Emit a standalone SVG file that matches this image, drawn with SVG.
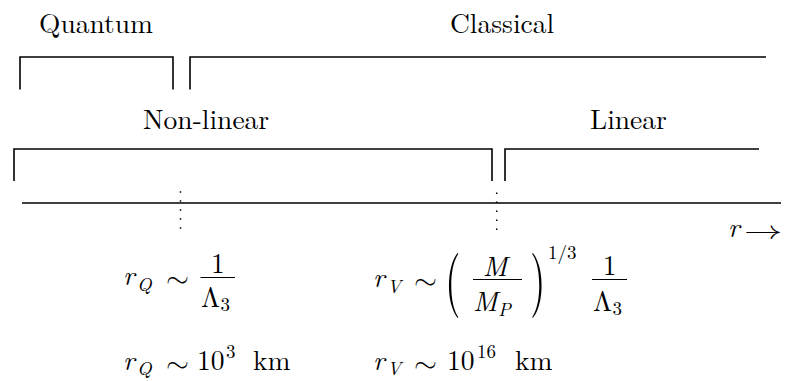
<svg xmlns="http://www.w3.org/2000/svg" width="790" height="381" viewBox="0 0 790 381">
<style>
.br{fill:none;stroke:#000;stroke-width:1.6;stroke-linecap:butt;stroke-linejoin:miter}
.dot{fill:none;stroke:#000;stroke-width:1.5;stroke-dasharray:1.5 7.5}
.t{font-size:27.5px;fill:#000}
.m{font-size:27.5px;fill:#000}
.i{font-style:italic;font-size:27.5px;fill:#000}
.s{font-style:italic;font-size:19px;fill:#000}
.sn{font-size:19px;fill:#000}
.op{font-size:27px;fill:#000}
.pa{font-size:40px;fill:#000}
.bar{stroke:#000;stroke-width:1.2}
</style>
<rect width="790" height="381" fill="#fff"/>
<g id="quantum" font-family="Latin Modern Roman, Liberation Serif, serif">
<path class="br" d="M20,89.5 V57 H173 V89.5"/>
<text class="t" font-family="Latin Modern Roman, Liberation Serif, serif" x="39" y="33">Quantum</text>
</g>
<g id="classical" font-family="Latin Modern Roman, Liberation Serif, serif">
<path class="br" d="M190,89.5 V57 H766"/>
<text class="t" font-family="Latin Modern Roman, Liberation Serif, serif" x="450" y="33">Classical</text>
</g>
<g id="nonlinear" font-family="Latin Modern Roman, Liberation Serif, serif">
<path class="br" d="M14,181 V149 H492 V181"/>
<text class="t" font-family="Latin Modern Roman, Liberation Serif, serif" x="143" y="129">Non-linear</text>
</g>
<g id="linear" font-family="Latin Modern Roman, Liberation Serif, serif">
<path class="br" d="M505,181 V149 H759"/>
<text class="t" font-family="Latin Modern Roman, Liberation Serif, serif" x="590" y="129">Linear</text>
</g>
<g id="connectors">
<path class="br" d="M22,203 H781"/>
<line class="dot" x1="180.5" y1="191.25" x2="180.5" y2="229"/>
<line class="dot" x1="496.7" y1="192.5" x2="496.7" y2="231"/>
</g>
<g id="axis-label" font-family="Latin Modern Roman, Liberation Serif, serif">
<text class="i" font-family="Latin Modern Roman, Liberation Serif, serif" x="728" y="237">r</text>
<text class="op" font-family="Latin Modern Math, DejaVu Serif, serif" x="744" y="239" textLength="38" lengthAdjust="spacingAndGlyphs">→</text>
</g>
<g id="rQ-formula" font-family="Latin Modern Roman, Liberation Serif, serif">
<text class="i" font-family="Latin Modern Roman, Liberation Serif, serif" x="123" y="284.5">r</text>
<text class="s" font-family="Latin Modern Roman, Liberation Serif, serif" x="137" y="291">Q</text>
<text class="op" font-family="Latin Modern Math, DejaVu Serif, serif" x="166" y="286.5" textLength="23" lengthAdjust="spacingAndGlyphs">∼</text>
<line class="bar" x1="200.5" y1="277.5" x2="235" y2="277.5"/>
<text class="m" font-family="Latin Modern Roman, Liberation Serif, serif" x="217.75" y="273" text-anchor="middle">1</text>
<text class="m" font-family="Latin Modern Roman, Liberation Serif, serif" x="201" y="307">Λ</text>
<text class="sn" font-family="Latin Modern Roman, Liberation Serif, serif" x="220.5" y="311">3</text>
</g>
<g id="rQ-value" font-family="Latin Modern Roman, Liberation Serif, serif">
<text class="i" font-family="Latin Modern Roman, Liberation Serif, serif" x="123" y="370">r</text>
<text class="s" font-family="Latin Modern Roman, Liberation Serif, serif" x="137" y="375">Q</text>
<text class="op" font-family="Latin Modern Math, DejaVu Serif, serif" x="166" y="372" textLength="23" lengthAdjust="spacingAndGlyphs">∼</text>
<text class="m" font-family="Latin Modern Roman, Liberation Serif, serif" x="197" y="370">10</text>
<text class="sn" font-family="Latin Modern Roman, Liberation Serif, serif" x="226" y="358">3</text>
<text class="m" font-family="Latin Modern Roman, Liberation Serif, serif" x="253" y="370">km</text>
</g>
<g id="rV-formula" font-family="Latin Modern Roman, Liberation Serif, serif">
<text class="i" font-family="Latin Modern Roman, Liberation Serif, serif" x="373" y="286.5">r</text>
<text class="s" font-family="Latin Modern Roman, Liberation Serif, serif" x="387" y="293">V</text>
<text class="op" font-family="Latin Modern Math, DejaVu Serif, serif" x="414" y="288.5" textLength="23" lengthAdjust="spacingAndGlyphs">∼</text>
<text class="pa" font-family="Latin Modern Roman, Liberation Serif, serif" transform="translate(445,302) scale(1,1.625)" x="0" y="0">(</text>
<line class="bar" x1="473" y1="279.5" x2="522" y2="279.5"/>
<text class="i" font-family="Latin Modern Roman, Liberation Serif, serif" x="495" y="276" text-anchor="middle">M</text>
<text class="i" font-family="Latin Modern Roman, Liberation Serif, serif" x="473" y="311">M</text>
<text class="s" font-family="Latin Modern Roman, Liberation Serif, serif" x="498" y="316">P</text>
<text class="pa" font-family="Latin Modern Roman, Liberation Serif, serif" transform="translate(530,302) scale(1,1.625)" x="0" y="0">)</text>
<text class="sn" font-family="Latin Modern Roman, Liberation Serif, serif" x="548" y="259">1/3</text>
<line class="bar" x1="592" y1="279.5" x2="627" y2="279.5"/>
<text class="m" font-family="Latin Modern Roman, Liberation Serif, serif" x="609.5" y="275" text-anchor="middle">1</text>
<text class="m" font-family="Latin Modern Roman, Liberation Serif, serif" x="593" y="311">Λ</text>
<text class="sn" font-family="Latin Modern Roman, Liberation Serif, serif" x="612.5" y="315">3</text>
</g>
<g id="rV-value" font-family="Latin Modern Roman, Liberation Serif, serif">
<text class="i" font-family="Latin Modern Roman, Liberation Serif, serif" x="373" y="370">r</text>
<text class="s" font-family="Latin Modern Roman, Liberation Serif, serif" x="387" y="375">V</text>
<text class="op" font-family="Latin Modern Math, DejaVu Serif, serif" x="414" y="372" textLength="23" lengthAdjust="spacingAndGlyphs">∼</text>
<text class="m" font-family="Latin Modern Roman, Liberation Serif, serif" x="447" y="370">10</text>
<text class="sn" font-family="Latin Modern Roman, Liberation Serif, serif" x="477" y="358">16</text>
<text class="m" font-family="Latin Modern Roman, Liberation Serif, serif" x="515" y="370">km</text>
</g>
</svg>
